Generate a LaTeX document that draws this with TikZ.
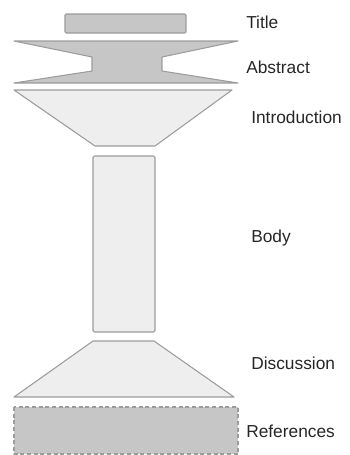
\documentclass[tikz,border=0pt]{standalone}
\usepackage{fontspec}
\setmainfont{Liberation Sans}
\definecolor{darkfill}{HTML}{C6C6C6}
\definecolor{lightfill}{HTML}{EEEEEE}
\definecolor{edge}{HTML}{9C9C9C}
\begin{document}
\begin{tikzpicture}[x=0.75pt,y=-0.75pt,
  dark/.style={fill=darkfill,draw=edge,line width=0.8pt,line join=round},
  light/.style={fill=lightfill,draw=edge,line width=0.8pt,line join=round},
  lbl/.style={anchor=west,inner sep=0pt,font=\fontsize{13}{15}\selectfont,text=black!85}]
\useasboundingbox (0,0) rectangle (350,455);
% Title
\draw[dark,rounded corners=0.8pt] (65,14) rectangle (186,33);
% Abstract
\draw[dark] (14,41) -- (238,41) -- (162,57) -- (162,71) -- (238,83) -- (14,83) -- (92,71) -- (92,57) -- cycle;
% Introduction
\draw[light] (14,90) -- (232,90) -- (155,146) -- (95,146) -- cycle;
% Body
\draw[light,rounded corners=1pt] (93,156) rectangle (155,332);
% Discussion
\draw[light] (93,341) -- (154,341) -- (234,397) -- (14,397) -- cycle;
% References
\draw[dark,dashed,dash pattern=on 3pt off 2pt] (14,407) rectangle (238,454);
% Labels
\node[lbl] (t) at (246,22) {Title};
\node[lbl] (a) at (246,67) {Abstract};
\node[lbl] (i) at (251,117) {Introduction};
\node[lbl] (b) at (251,238) {Body};
\node[lbl] (d) at (251,363) {Discussion};
\node[lbl] (r) at (246,431) {References};
\end{tikzpicture}
\end{document}
